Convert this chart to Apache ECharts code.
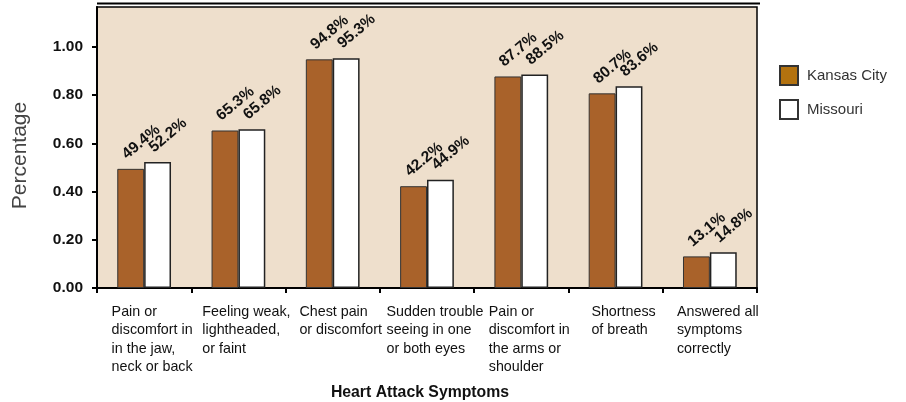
<!DOCTYPE html>
<html>
<head>
<meta charset="utf-8">
<script src="https://cdn.jsdelivr.net/npm/echarts@6/dist/echarts.min.js"></script>
<style>
  html, body { margin: 0; padding: 0; background: #fff; }
  #chart { width: 906px; height: 402px; }
</style>
</head>
<body>
<div id="chart"></div>
<script>
// categories (x axis)
const symptoms = [
  'Pain or\ndiscomfort in\nin the jaw,\nneck or back',
  'Feeling weak,\nlightheaded,\nor faint',
  'Chest pain\nor discomfort',
  'Sudden trouble\nseeing in one\nor both eyes',
  'Pain or\ndiscomfort in\nthe arms or\nshoulder',
  'Shortness\nof breath',
  'Answered all\nsymptoms\ncorrectly'
]
// percentages
const kansasCity = [49.4, 65.3, 94.8, 42.2, 87.7, 80.7, 13.1]
const missouri = [52.2, 65.8, 95.3, 44.9, 88.5, 83.6, 14.8]
// y ticks
const yTicks = [0, 0.2, 0.4, 0.6, 0.8, 1.0]

const font = 'Liberation Sans, Arial, sans-serif'

const barLabel = {
  show: true,
  position: 'top',
  distance: 5,
  rotate: 40,
  align: 'left',
  verticalAlign: 'middle',
  offset: [0, -10],
  fontFamily: font,
  fontSize: 15.5,
  fontWeight: 'bold',
  color: '#111',
  formatter: p => (p.value * 100).toFixed(1) + '%'
}

const chart = echarts.init(document.getElementById('chart'))
chart.setOption({
  animation: false,
  textStyle: { fontFamily: font },
  grid: {
    left: 97, right: 149, top: 7, bottom: 114,
    outerBoundsMode: 'none',
    show: true,
    backgroundColor: '#eedfcc',
    borderColor: '#000',
    borderWidth: 1.5
  },
  legend: {
    orient: 'vertical',
    left: 779,
    top: 65,
    padding: 0,
    itemWidth: 18,
    itemHeight: 19,
    itemGap: 13,
    textStyle: { fontFamily: font, fontSize: 15, color: '#333', padding: [0, 0, 0, 4] },
    data: [
      { name: 'Kansas City', icon: 'rect', itemStyle: { color: '#b3720f', borderColor: '#333', borderWidth: 2 } },
      { name: 'Missouri', icon: 'rect', itemStyle: { color: '#fff', borderColor: '#333', borderWidth: 2 } }
    ]
  },
  graphic: [
    { type: 'line', shape: { x1: 97, y1: 3.5, x2: 760, y2: 3.5 }, style: { stroke: '#000', lineWidth: 2 } }
  ],
  xAxis: {
    type: 'category',
    data: symptoms,
    name: 'Heart Attack Symptoms',
    nameLocation: 'middle',
    nameGap: 97,
    nameTextStyle: { fontFamily: font, fontSize: 15.8, fontWeight: 'bold', color: '#111', padding: [0, 14, 0, 0] },
    axisLine: { lineStyle: { color: '#000', width: 2 } },
    axisTick: { show: true, length: 5, lineStyle: { color: '#000', width: 2 } },
    axisLabel: {
      interval: 0,
      margin: 15,
      padding: [0, 0, 0, 16],
      formatter: v => v.split('\n').map(s => '{l|' + s + '}').join('\n'),
      rich: {
        l: { align: 'left', fontFamily: font, fontSize: 14.3, color: '#111', lineHeight: 18.3 }
      }
    }
  },
  yAxis: {
    type: 'value',
    min: 0,
    max: 1.165,
    name: 'Percentage',
    nameLocation: 'middle',
    nameRotate: 90,
    nameGap: 66,
    nameTextStyle: { fontFamily: font, fontSize: 21, color: '#444', padding: [0, 16, 0, 0] },
    splitLine: { show: false },
    axisLine: { show: true, lineStyle: { color: '#000', width: 2 } },
    axisTick: { show: true, length: 5, customValues: yTicks, lineStyle: { color: '#000', width: 2 } },
    axisLabel: {
      customValues: yTicks,
      margin: 14,
      fontFamily: font,
      fontSize: 15.5,
      fontWeight: 'bold',
      color: '#111',
      formatter: v => v.toFixed(2)
    }
  },
  series: [
    {
      name: 'Kansas City',
      type: 'bar',
      data: kansasCity.map(v => v / 100),
      barGap: '0%',
      barCategoryGap: '43%',
      itemStyle: { color: '#a9622a', borderColor: '#333', borderWidth: 1 },
      label: barLabel
    },
    {
      name: 'Missouri',
      type: 'bar',
      data: missouri.map(v => v / 100),
      itemStyle: { color: '#fff', borderColor: '#222', borderWidth: 1.5 },
      label: barLabel
    }
  ]
})
</script>
</body>
</html>
